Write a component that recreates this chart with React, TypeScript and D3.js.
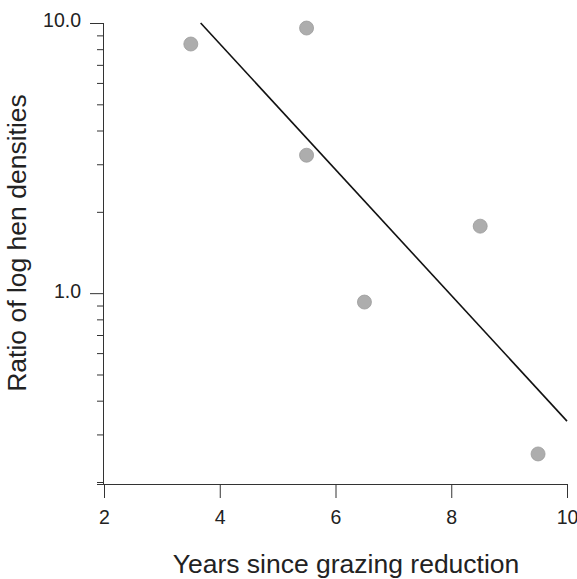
import React, { useEffect, useRef } from "react";
import * as d3 from "d3";

// observed points (years since grazing reduction, ratio)
const years = [3.5, 5.5, 5.5, 6.5, 8.5, 9.5];
const ratios = [8.36, 9.58, 3.24, 0.927, 1.77, 0.254];

// fitted line end points
const fitYears = [3.67, 10];
const fitRatios = [10, 0.336];

const xTicks = [2, 4, 6, 8, 10];
const yMajor = [1, 10];
const yMinor = [0.2, 0.3, 0.4, 0.5, 0.6, 0.7, 0.8, 0.9, 2, 3, 4, 5, 6, 7, 8, 9];

const App = () => {
  const ref = useRef<SVGSVGElement>(null);

  useEffect(() => {
    const svg = d3.select(ref.current);
    svg.selectAll("*").remove();

    const font = "Liberation Sans, Arial, sans-serif";
    const axisColor = "#333";

    const x = d3.scaleLinear().domain([2, 10]).range([104, 567]);
    const y = d3.scaleLog().domain([0.2, 10]).range([482, 23]);

    // y axis minor ticks
    const yMin = svg.append("g")
      .attr("transform", "translate(103,0)")
      .call(d3.axisLeft(y).tickValues(yMinor).tickSize(6).tickFormat(() => "").tickSizeOuter(0));
    yMin.select(".domain").remove();

    // y axis major
    const yAx = svg.append("g")
      .attr("transform", "translate(103,0)")
      .call(d3.axisLeft(y).tickValues(yMajor).tickSize(13).tickPadding(9)
        .tickFormat(d3.format(".1f") as any).tickSizeOuter(0));
    yAx.select(".domain").attr("d", "M0.5,23V484");
    yAx.selectAll("text").attr("dy", "0.2em");

    // x axis
    const xAx = svg.append("g")
      .attr("transform", "translate(0,484)")
      .call(d3.axisBottom(x).tickValues(xTicks).tickSize(14).tickPadding(12).tickSizeOuter(0));
    xAx.select(".domain").attr("d", "M97,0.5H567");

    [yMin, yAx, xAx].forEach(g => {
      g.selectAll("line").attr("stroke", axisColor);
      g.selectAll(".domain").attr("stroke", axisColor);
      g.selectAll("text").attr("font-family", font).attr("font-size", 19.5).attr("fill", "#222");
    });

    // fitted line
    const line = d3.line<number>()
      .x((d, i) => x(fitYears[i]))
      .y(d => y(d));
    svg.append("path")
      .attr("d", line(fitRatios))
      .attr("fill", "none")
      .attr("stroke", "#111")
      .attr("stroke-width", 1.6);

    // points
    svg.selectAll("circle.pt")
      .data(years)
      .enter()
      .append("circle")
      .attr("class", "pt")
      .attr("cx", d => x(d))
      .attr("cy", (d, i) => y(ratios[i]))
      .attr("r", 7)
      .attr("fill", "#adadad")
      .attr("stroke", "#9c9c9c")
      .attr("stroke-width", 0.8);

    // axis titles
    svg.append("text")
      .attr("x", 346)
      .attr("y", 573)
      .attr("text-anchor", "middle")
      .attr("font-family", font)
      .attr("font-size", 26.5)
      .attr("fill", "#222")
      .text("Years since grazing reduction");

    svg.append("text")
      .attr("transform", "translate(26,243) rotate(-90)")
      .attr("text-anchor", "middle")
      .attr("font-family", font)
      .attr("font-size", 26.5)
      .attr("fill", "#222")
      .text("Ratio of log hen densities");
  }, []);

  return (
    <div style={{ position: "fixed", left: 0, top: 0 }}>
      <svg ref={ref} width={577} height={579} style={{ display: "block", background: "#fff" }} />
    </div>
  );
};

export default App;
